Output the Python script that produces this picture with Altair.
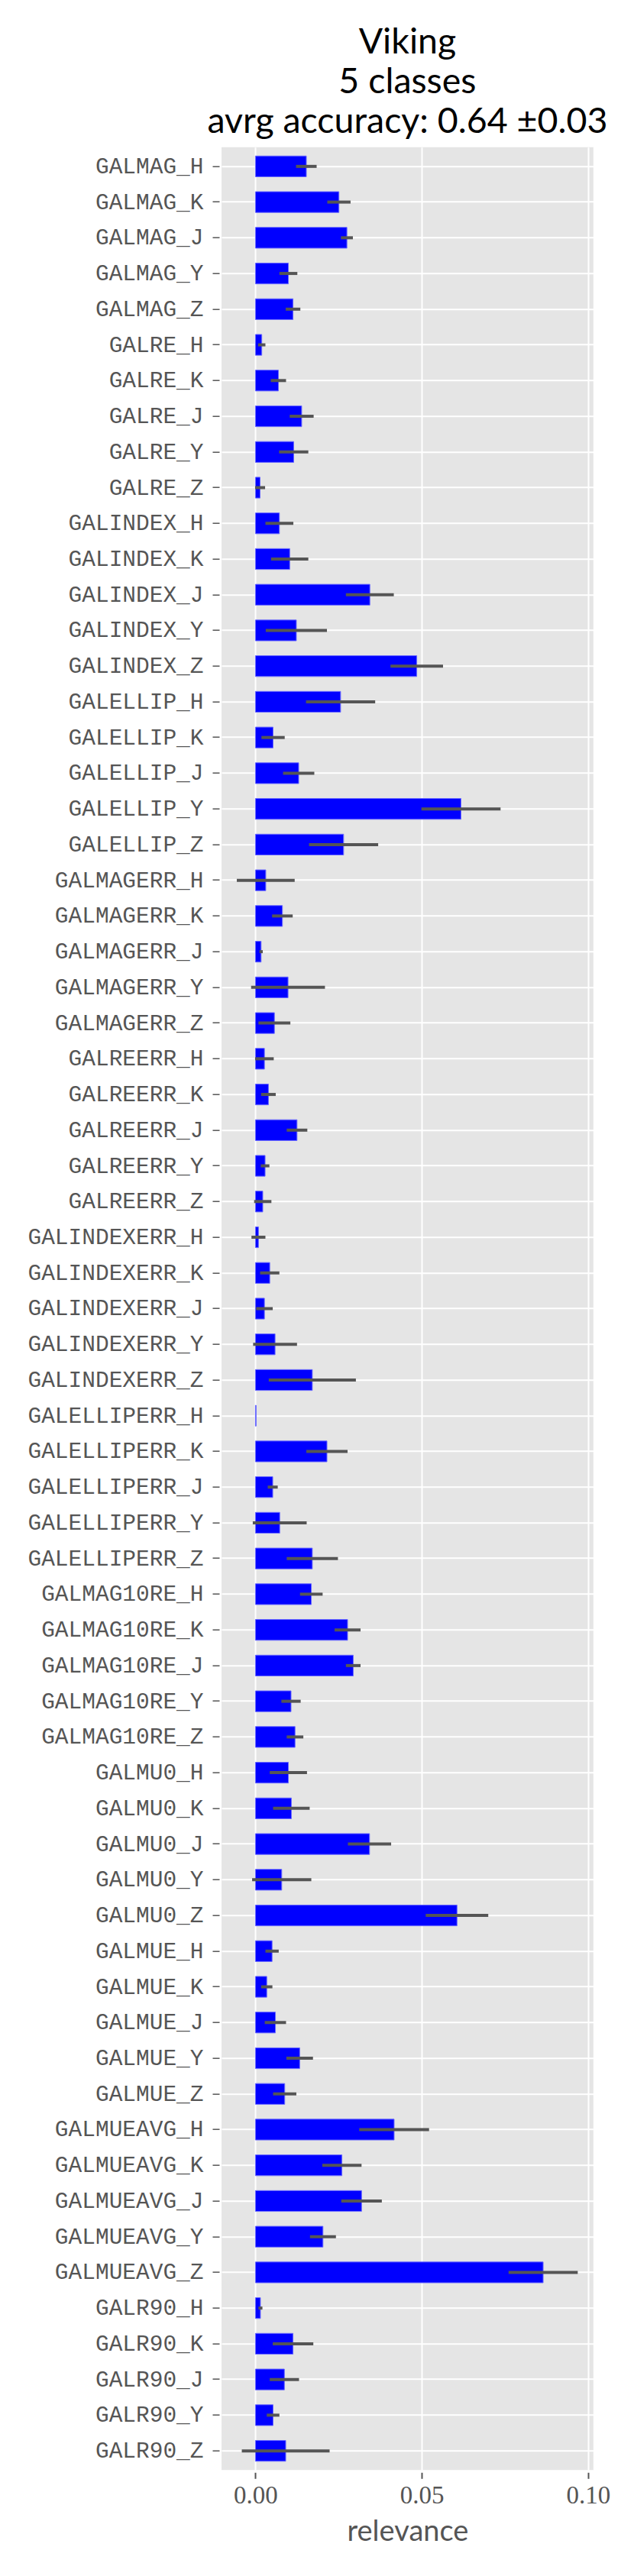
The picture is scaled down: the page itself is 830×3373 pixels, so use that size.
import altair as alt
import pandas as pd

prefixes = ["GALMAG", "GALRE", "GALINDEX", "GALELLIP", "GALMAGERR", "GALREERR",
            "GALINDEXERR", "GALELLIPERR", "GALMAG10RE", "GALMU0", "GALMUE",
            "GALMUEAVG", "GALR90"]
bands = ["H", "K", "J", "Y", "Z"]
features = [f"{p}_{b}" for p in prefixes for b in bands]

relevance = [
    0.0153, 0.0251, 0.0275, 0.0099, 0.0113,   # GALMAG
    0.0019, 0.0069, 0.0139, 0.0115, 0.0014,   # GALRE
    0.0072, 0.0103, 0.0344, 0.0123, 0.0485,   # GALINDEX
    0.0256, 0.0053, 0.0130, 0.0618, 0.0265,   # GALELLIP
    0.0031, 0.0081, 0.0017, 0.0098, 0.0057,   # GALMAGERR
    0.0027, 0.0039, 0.0125, 0.0029, 0.0022,   # GALREERR
    0.0009, 0.0043, 0.0027, 0.0059, 0.0171,   # GALINDEXERR
    0.0002, 0.0215, 0.0052, 0.0073, 0.0171,   # GALELLIPERR
    0.0168, 0.0277, 0.0294, 0.0107, 0.0119,   # GALMAG10RE
    0.0099, 0.0108, 0.0343, 0.0079, 0.0606,   # GALMU0
    0.0050, 0.0034, 0.0060, 0.0133, 0.0088,   # GALMUE
    0.0417, 0.0260, 0.0319, 0.0203, 0.0865,   # GALMUEAVG
    0.0015, 0.0113, 0.0087, 0.0053, 0.0091,   # GALR90
]

errors = [
    0.0031, 0.0035, 0.0018, 0.0027, 0.0022,
    0.0011, 0.0023, 0.0036, 0.0044, 0.0015,
    0.0042, 0.0056, 0.0072, 0.0092, 0.0079,
    0.0104, 0.0035, 0.0047, 0.0119, 0.0104,
    0.0087, 0.0031, 0.0005, 0.0111, 0.0048,
    0.0028, 0.0022, 0.0031, 0.0013, 0.0026,
    0.0021, 0.0029, 0.0025, 0.0066, 0.0131,
    0.0000, 0.0062, 0.0015, 0.0081, 0.0077,
    0.0034, 0.0039, 0.0022, 0.0029, 0.0025,
    0.0056, 0.0055, 0.0065, 0.0089, 0.0094,
    0.0020, 0.0017, 0.0032, 0.0040, 0.0035,
    0.0105, 0.0059, 0.0061, 0.0039, 0.0104,
    0.0006, 0.0061, 0.0044, 0.0019, 0.0132,
]

x_ticks = [0.0, 0.05, 0.10]
title_lines = ["Viking", "5 classes", "avrg accuracy: 0.64 \u00b10.03"]

df = pd.DataFrame({"feature": features, "relevance": relevance, "err": errors})
df["lo"] = df["relevance"] - df["err"]
df["hi"] = df["relevance"] + df["err"]

y_enc = alt.Y(
    "feature:N",
    sort=features,
    scale=alt.Scale(paddingInner=0.4175, paddingOuter=0.247),
    axis=alt.Axis(
        title=None,
        labelFont="Liberation Mono",
        labelFontSize=29.5,
        labelColor="#555555",
        labelPadding=12,
        labelLimit=0,
        tickSize=9,
        tickColor="#555555",
        tickWidth=1.5,
        offset=3,
        domain=False,
        grid=True,
        gridColor="white",
        gridWidth=2,
    ),
)

x_scale = alt.Scale(domain=[-0.0102, 0.1016], nice=False, zero=False)
x_axis = alt.Axis(
    values=x_ticks,
    format=".2f",
    title="relevance",
    titleFont="Lato",
    titleFontSize=38,
    titleFontWeight="normal",
    titleColor="#555555",
    titlePadding=12,
    labelFont="Liberation Serif",
    labelFontSize=33,
    labelColor="#555555",
    labelPadding=6,
    tickSize=8,
    tickColor="#555555",
    tickWidth=2,
    offset=3,
    domain=False,
    grid=True,
    gridColor="white",
    gridWidth=2,
)

bars = alt.Chart(df).mark_bar(
    color="#0000ff", stroke="#6a6aff", strokeWidth=1
).encode(
    x=alt.X("relevance:Q", scale=x_scale, axis=x_axis),
    x2=alt.datum(0),
    y=y_enc,
)

errbars = alt.Chart(df).mark_rule(color="#555555", strokeWidth=4).encode(
    x=alt.X("lo:Q", scale=x_scale, axis=x_axis),
    x2="hi:Q",
    y=y_enc,
)

chart = alt.layer(bars, errbars).properties(
    width=486.8,
    height=3041.6,
    autosize=alt.AutoSizeParams(type="none"),
    padding={"left": 282, "top": 184.7, "right": 40, "bottom": 120},
    title=alt.TitleParams(
        text=title_lines,
        font="Lato",
        fontSize=46.5,
        fontWeight="normal",
        color="black",
        lineHeight=52,
        anchor="middle",
        offset=9,
    ),
).configure_view(fill="#E5E5E5", strokeWidth=0)

chart.save("out.html", embed_options={"renderer": "svg", "actions": False})
